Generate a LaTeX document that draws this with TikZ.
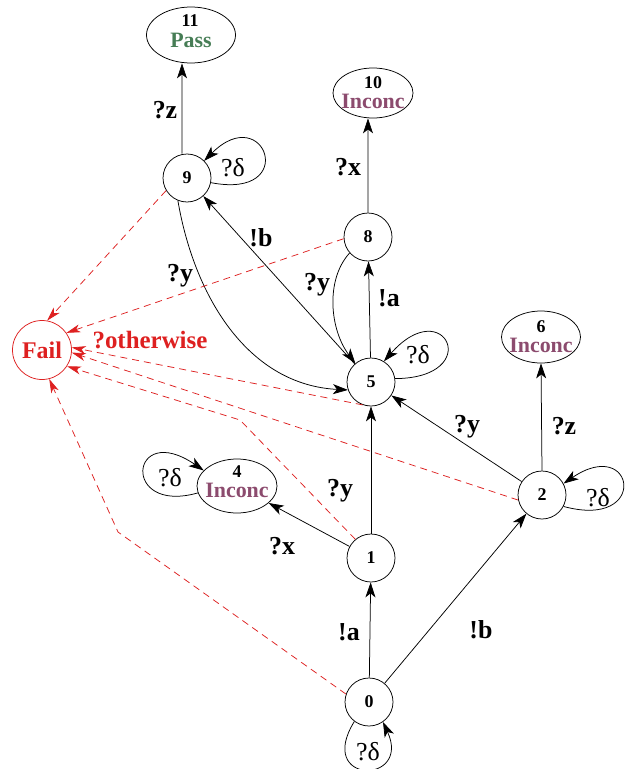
\documentclass[tikz,border=0pt]{standalone}
\usepackage{fontspec}
\setmainfont{Liberation Serif}
\usetikzlibrary{shapes.geometric,arrows.meta,calc}
\definecolor{failred}{RGB}{222,32,32}
\definecolor{passgreen}{RGB}{70,125,85}
\definecolor{inconcc}{RGB}{140,75,110}
\begin{document}
\begin{tikzpicture}[x=1bp,y=-1bp,
  st/.style={circle,draw,line width=0.75bp,minimum size=48bp,inner sep=0pt,font=\bfseries\fontsize{18}{18}\selectfont},
  ell/.style={ellipse,draw,line width=0.75bp,inner sep=0pt},
  num/.style={anchor=base,inner sep=0pt,font=\bfseries\fontsize{18}{18}\selectfont},
  verd/.style={anchor=base,inner sep=0pt,font=\bfseries\fontsize{22}{22}\selectfont},
  tr/.style={line width=0.75bp,-{Stealth[length=15bp,width=10bp,inset=4bp]}},
  fl/.style={draw=failred,line width=0.75bp,dash pattern=on 7bp off 5bp,-{Stealth[length=14bp,width=8bp,inset=4bp]}},
  lab/.style={inner sep=0pt,font=\bfseries\fontsize{26}{26}\selectfont},
  dl/.style={inner sep=0pt,font=\fontsize{26}{26}\selectfont},
]
\useasboundingbox (0,0) rectangle (628,769);
\fill[white] (0,0) rectangle (628,769);

% verdict ellipses
\node[ell,minimum width=89bp,minimum height=56bp] (n11) at (191,35) {};
\node[num] (t11a) at (190,27) {11};
\node[verd,text=passgreen] (t11b) at (191,48) {Pass};

\node[ell,minimum width=80bp,minimum height=50bp] (n10) at (373,93) {};
\node[num] (t10a) at (373,88) {10};
\node[verd,text=inconcc] (t10b) at (373,108) {Inconc};

\node[ell,minimum width=79bp,minimum height=52bp] (n6) at (541,337) {};
\node[num] (t6a) at (541,332) {6};
\node[verd,text=inconcc] (t6b) at (541,352) {Inconc};

\node[ell,minimum width=80bp,minimum height=54bp] (n4) at (237,486) {};
\node[num] (t4a) at (237,477) {4};
\node[verd,text=inconcc] (t4b) at (237,497) {Inconc};

% states
\node[st] (n9) at (187,178) {9};
\node[st] (n8) at (368,237) {8};
\node[st] (n5) at (371,382) {5};
\node[st] (n2) at (542,495) {2};
\node[st] (n1) at (371,558) {1};
\node[st] (n0) at (369,702) {0};
\node[circle,draw=failred,line width=0.75bp,minimum size=59bp,inner sep=0pt,text=failred,font=\bfseries\fontsize{24}{24}\selectfont] (fail) at (42,350) {Fail};

% transitions
\draw[tr] ([xshift=-5bp]n9.north) -- ([xshift=-9bp]n11.south);
\draw[tr] (n8.north) -- ([xshift=-5bp]n10.south);
\draw[tr] (n5) -- (n8);
\draw[tr] (n1) -- (n5);
\draw[tr] (n0) -- (n1);
\draw[tr] (n0) -- (n2);
\draw[tr] (n1) -- (n4);
\draw[tr] (n2) -- (n5);
\draw[tr] (n2.north) -- (n6.south);
\draw[tr] (n5) -- (n9);
\draw[tr] (n9.-112) .. controls (195,300) and (250,385) .. (n5.-161);
\draw[tr] (n8.-139) .. controls (325,280) and (330,330) .. (n5.130);

% self loops
\draw[tr] (n9.-11) .. controls (300,200) and (265,100) .. (n9.45);
\draw[tr] (n5.8) .. controls (485,378) and (445,292) .. (n5.58);
\draw[tr] (n2.-28) .. controls (650,530) and (635,435) .. (n2.28);
\draw[tr] (n4.190) .. controls (120,515) and (130,420) .. (n4.155);
\draw[tr] (n0.-127) .. controls (315,785) and (412,785) .. (n0.-55);

% fail edges
\draw[fl] (n9.-149) -- (fail.80);
\draw[fl] (n8.184) -- (fail.35);
\draw[fl] (n5.-110) -- (fail.5);
\draw[fl] (n2.192) -- (fail.-5);
\draw[fl] (n1.130) -- (240,420) -- (fail.-33);
\draw[fl] (n0.161) -- (118,532) -- (fail.-76);

% labels
\node[lab] (l1) at (165,110) {?z};
\node[lab] (l2) at (348,167) {?x};
\node[lab] (l3) at (261,238) {!b};
\node[lab] (l4) at (180,276) {?y};
\node[lab] (l5) at (317,285) {?y};
\node[lab] (l6) at (389,298) {!a};
\node[lab] (l7) at (467,427) {?y};
\node[lab] (l8) at (564,426) {?z};
\node[lab] (l9) at (340,491) {?y};
\node[lab] (l10) at (282,546) {?x};
\node[lab] (l11) at (349,632) {!a};
\node[lab] (l12) at (481,630) {!b};
\node[lab,text=failred,font=\bfseries\fontsize{25}{25}\selectfont] (l13) at (150,340) {?otherwise};
\node[dl] (d9) at (233,168) {?δ};
\node[dl] (d5) at (418,355) {?δ};
\node[dl] (d2) at (598,498) {?δ};
\node[dl] (d4) at (170,478) {?δ};
\node[dl] (d0) at (368,752) {?δ};
\end{tikzpicture}
\end{document}
